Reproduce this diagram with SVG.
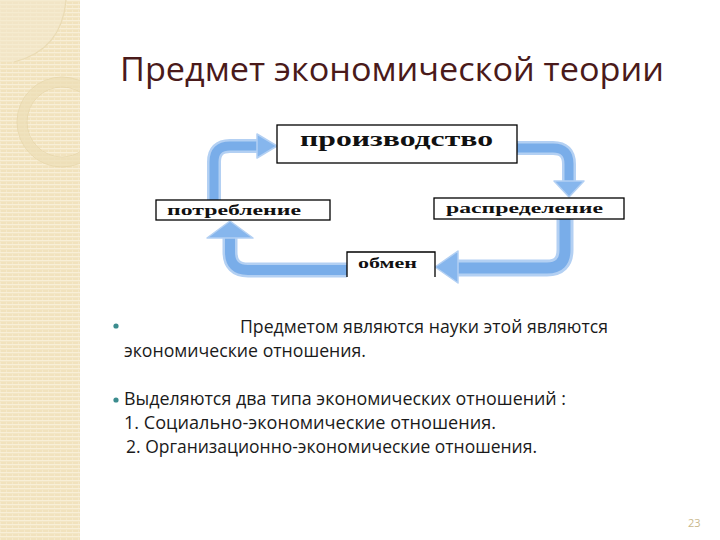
<svg xmlns="http://www.w3.org/2000/svg" width="720" height="540" viewBox="0 0 720 540">
  <defs>
    <pattern id="stripes" width="6" height="4" patternUnits="userSpaceOnUse">
      <rect width="6" height="4" fill="#f1e2bd"/>
      <rect y="0" width="6" height="1.3" fill="#f8efd8"/>
      <rect x="0" y="2" width="1" height="2" fill="#f5e9ca"/>
    </pattern>
    <clipPath id="sideClip">
      <rect x="0" y="0" width="80" height="540"/>
    </clipPath>
    <style>
      .box { fill: #ffffff; stroke: #000000; stroke-width: 1.3; }
      .lbl { font-family: "Liberation Serif", "DejaVu Serif", serif; font-weight: bold; fill: #111111; }
      .body { font-family: "Open Sans", "Noto Sans", "Liberation Sans", sans-serif; font-size: 18px; fill: #1a1a1a; }
      .arrOuter { fill: none; stroke: #b3d0f3; stroke-linecap: butt; }
      .arrInner { fill: none; stroke: #79ade9; stroke-linecap: butt; }
      .head { fill: #86b6ed; stroke: #b3d0f3; stroke-width: 1.5; stroke-linejoin: round; }
      .bullet { fill: #3b8c8e; }
    </style>
  </defs>

  <rect width="720" height="540" fill="#ffffff"/>

  <!-- sidebar -->
  <g id="sidebar">
    <rect x="0" y="0" width="80" height="540" fill="url(#stripes)"/>
    <g clip-path="url(#sideClip)">
      <path d="M0,0 L66,0 Q62,50 14,62 L0,62 Z" fill="#f4e8cc" opacity="0.6"/>
      <path d="M66,0 Q62,50 14,62" fill="none" stroke="#eadbb4" stroke-width="1.2"/>
      <circle cx="62" cy="122" r="40" fill="none" stroke="#ecdeb6" stroke-width="9" opacity="0.7"/>
      <circle cx="62" cy="122" r="45" fill="none" stroke="#e6d5aa" stroke-width="0.8"/>
      <circle cx="62" cy="122" r="35" fill="none" stroke="#e6d5aa" stroke-width="0.8"/>
    </g>
  </g>

  <!-- title -->
  <g id="title">
    <text x="120" y="81" font-family="Open Sans, Noto Sans, Liberation Sans, sans-serif" font-size="33" fill="#4a1a1a" textLength="544" lengthAdjust="spacingAndGlyphs">Предмет экономической теории</text>
  </g>

  <!-- connectors -->
  <g id="connectors">
    <!-- потребление -> производство -->
    <path class="arrOuter" stroke-width="14" d="M214,200 L214,162 Q214,146 230,146 L260,146"/>
    <path class="arrInner" stroke-width="9" d="M214,200 L214,162 Q214,146 230,146 L260,146"/>
    <polygon class="head" points="257,134 277,146 257,158"/>
    <!-- производство -> распределение -->
    <path class="arrOuter" stroke-width="14" d="M517,148 L553,148 Q569,148 569,164 L569,182"/>
    <path class="arrInner" stroke-width="9" d="M517,148 L553,148 Q569,148 569,164 L569,182"/>
    <polygon class="head" points="554,181 584,181 569,197"/>
    <!-- распределение -> обмен -->
    <path class="arrOuter" stroke-width="17" d="M565,219 L565,250 Q565,268 547,268 L458,268"/>
    <path class="arrInner" stroke-width="11" d="M565,219 L565,250 Q565,268 547,268 L458,268"/>
    <polygon class="head" points="458,251 435,267 458,283"/>
    <!-- обмен -> потребление -->
    <path class="arrOuter" stroke-width="15" d="M347,270 L248,270 Q230,270 230,252 L230,238"/>
    <path class="arrInner" stroke-width="10" d="M347,270 L248,270 Q230,270 230,252 L230,238"/>
    <polygon class="head" points="207,238 230,221 253,238"/>
  </g>

  <!-- nodes -->
  <g id="node-proizvodstvo">
    <rect class="box" x="277" y="125" width="240" height="38"/>
    <text class="lbl" x="300" y="146" font-size="20" textLength="193" lengthAdjust="spacingAndGlyphs">производство</text>
  </g>
  <g id="node-potreblenie">
    <rect class="box" x="156" y="200" width="174" height="20"/>
    <text class="lbl" x="167" y="215" font-size="15" textLength="134" lengthAdjust="spacingAndGlyphs">потребление</text>
  </g>
  <g id="node-raspredelenie">
    <rect class="box" x="434" y="198" width="190" height="21"/>
    <text class="lbl" x="446" y="213" font-size="15" textLength="157" lengthAdjust="spacingAndGlyphs">распределение</text>
  </g>
  <g id="node-obmen">
    <path d="M347,277 L347,252 L435,252 L435,277" fill="#ffffff" stroke="#000000" stroke-width="1.3"/>
    <text class="lbl" x="358" y="268" font-size="15" textLength="59" lengthAdjust="spacingAndGlyphs">обмен</text>
  </g>

  <!-- bullet text -->
  <g id="bullets">
    <circle class="bullet" cx="116" cy="326" r="2.6"/>
    <text class="body" x="240" y="333" textLength="368" lengthAdjust="spacingAndGlyphs">Предметом являются науки этой являются</text>
    <text class="body" x="124" y="357" textLength="242" lengthAdjust="spacingAndGlyphs">экономические отношения.</text>
    <circle class="bullet" cx="116" cy="400" r="2.6"/>
    <text class="body" x="124" y="405" textLength="442" lengthAdjust="spacingAndGlyphs">Выделяются  два типа экономических отношений :</text>
    <text class="body" x="124" y="429" textLength="372" lengthAdjust="spacingAndGlyphs">1. Социально-экономические отношения.</text>
    <text class="body" x="126" y="453" textLength="411" lengthAdjust="spacingAndGlyphs">2. Организационно-экономические отношения.</text>
  </g>

  <g id="page-number">
    <text x="688" y="527" font-family="Open Sans, Liberation Sans, sans-serif" font-size="11" fill="#c9b88c">23</text>
  </g>
</svg>
